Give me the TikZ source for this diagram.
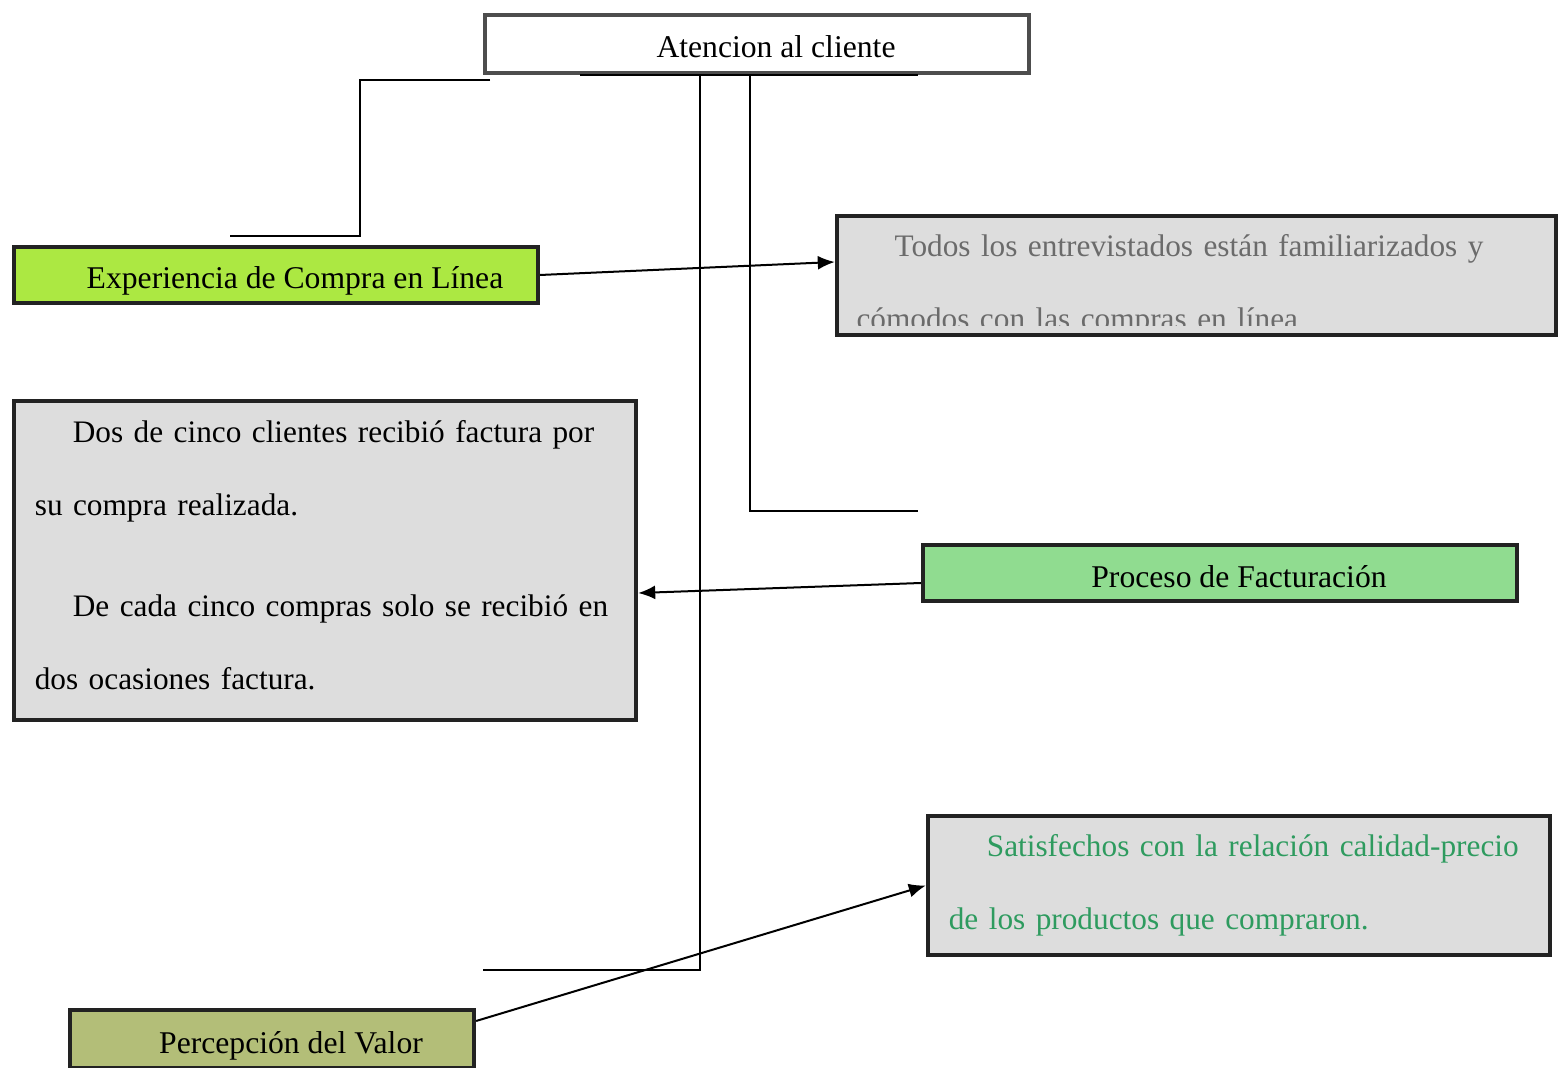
\documentclass[tikz,border=0pt]{standalone}
\usepackage{fontspec}
\setmainfont{Liberation Serif}
\usetikzlibrary{arrows.meta,calc}
\definecolor{limefill}{RGB}{172,232,66}
\definecolor{factfill}{RGB}{144,220,144}
\definecolor{valfill}{RGB}{179,190,120}
\definecolor{notefill}{RGB}{221,221,221}
\definecolor{edge}{RGB}{34,34,34}
\definecolor{topedge}{RGB}{77,77,77}
\definecolor{greytext}{RGB}{107,107,107}
\definecolor{greentext}{RGB}{46,155,95}
\newcommand{\ind}{\hspace*{0.38cm}}
\tikzset{
  box/.style={draw=edge,line width=0.04cm,inner sep=0pt,font=\fontsize{9pt}{20.8pt}\selectfont},
  topic/.style={box,text height=0.36cm,text depth=0.08cm},
  note/.style={box,fill=notefill,align=left,inner xsep=0.21cm,font=\fontsize{8.9pt}{20.8pt}\selectfont},
  arrow/.style={-{Latex[length=0.17cm,width=0.14cm]},line width=0.02cm},
  link/.style={line width=0.015cm}
}

\begin{document}
\begin{tikzpicture}[x=0.01cm,y=-0.01cm]
    \useasboundingbox (0,0) rectangle (1558,1068);

    \node[topic,draw=topedge,fill=white,minimum width=5.44cm,minimum height=0.58cm] (aten) at (757,44) {\ind Atencion al cliente};

    \node[topic,fill=limefill,minimum width=5.24cm,minimum height=0.56cm] (expe) at (276,275) {\ind Experiencia de Compra en Línea};
    \node[topic,fill=factfill,minimum width=5.94cm,minimum height=0.56cm] (proc) at (1220,573) {\ind Proceso de Facturación};
    \node[topic,fill=valfill,minimum width=4.04cm,minimum height=0.58cm] (perc) at (272,1039) {\ind Percepción del Valor};

    \node[box,fill=notefill,minimum width=7.19cm,minimum height=1.19cm] (todos) at (1196.5,275.5) {};
    \begin{scope}
      \clip ([xshift=0.02cm]todos.north west) rectangle ([yshift=0.12cm]todos.south east);
      \node[anchor=north west,inner sep=0pt,text width=6.9cm,align=left,text=greytext,
        font=\fontsize{8.9pt}{20.8pt}\selectfont] (todostxt) at ([xshift=0.21cm,yshift=-0.2cm]todos.north west)
        {\ind Todos los entrevistados están familiarizados y\\ cómodos con las compras en línea};
    \end{scope}

    \node[note,minimum width=6.22cm,minimum height=3.19cm,text width=5.8cm] (dos) at (325,560.5)
      {\ind Dos de cinco clientes recibió factura por\\ su compra realizada.\\[0.27cm]
       \ind De cada cinco compras solo se recibió en\\ dos ocasiones factura.\rule[-0.11cm]{0pt}{0pt}};

    \node[note,text=greentext,minimum width=6.22cm,minimum height=1.39cm,text width=5.8cm] (sat) at (1239,885.5)
      {\ind Satisfechos con la relación calidad-precio\\ de los productos que compraron.};

    % free ends of the elbow lines
    \coordinate (expA) at (490,80);
    \coordinate (expB) at (230,236);
    \coordinate (factend) at (918,511);
    \coordinate (valend) at (483,970);

    \draw[link] ([xshift=-1.77cm]aten.south) -- ([xshift=1.61cm]aten.south);
    \draw[link] (expA) -- ++(-130,0) |- (expB);
    \draw[link] ([xshift=-0.57cm]aten.south) |- (valend);
    \draw[link] ([xshift=-0.07cm]aten.south) |- (factend);

    \draw[arrow] (expe.east) -- ([yshift=0.135cm]todos.west);
    \draw[arrow] ([yshift=-0.1cm]proc.west) -- ([yshift=-0.325cm]dos.east);
    \draw[arrow] ([yshift=0.18cm]perc.east) -- (sat.west);
\end{tikzpicture}
\end{document}
